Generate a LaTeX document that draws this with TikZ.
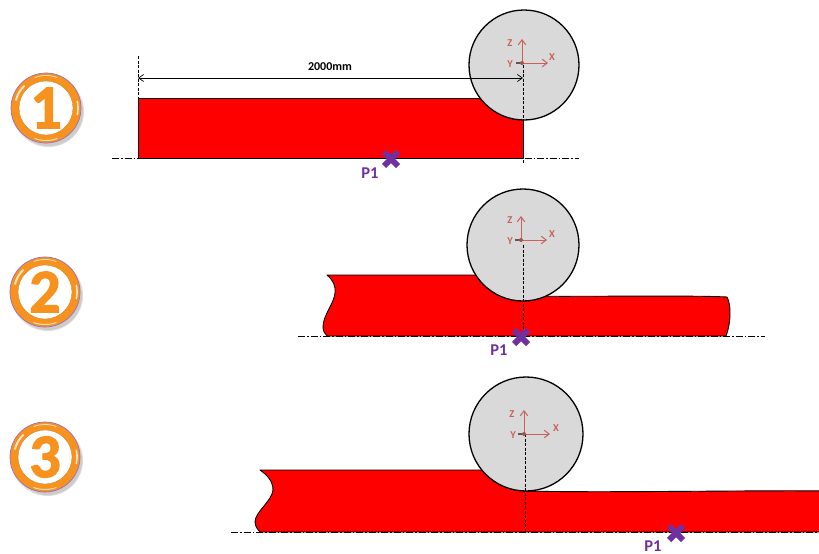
\documentclass[tikz,border=0pt]{standalone}
\usepackage{fontspec}
\setmainfont{Carlito}
\newfontfamily\digitfont[BoldFeatures={FakeBold=2}]{Carlito}
\usetikzlibrary{arrows.meta}
\definecolor{axisred}{HTML}{C9605D}
\definecolor{pur}{HTML}{7030A0}
\definecolor{ringor}{HTML}{F8921E}
\definecolor{ringlt}{HTML}{FFE3BE}
\tikzset{
  x=1pt,y=-1pt,
  bar/.style={fill=red,draw=black,line width=0.9pt,line join=round},
  roll/.style={circle,draw=black,line width=1.3pt,fill=black!15,inner sep=0pt},
  axisline/.style={draw=black,line width=0.6pt,dash pattern=on 7pt off 2pt on 1.5pt off 2pt},
  centerline/.style={draw=black,line width=0.7pt,dash pattern=on 3pt off 1.5pt},
  coord/.style={draw=axisred,line width=1pt,-{Straight Barb[length=5pt,width=7.5pt]}},
  coordlab/.style={text=axisred,font=\bfseries\fontsize{10.5}{10.5}\selectfont,inner sep=0pt},
  plabel/.style={text=pur,font=\bfseries\fontsize{16.5}{16.5}\selectfont,inner sep=0pt},
  crossmark/.style={draw=pur,line width=6pt},
  ring/.style={circle,draw=pur!70,line width=0.7pt,fill=ringor,minimum size=70pt,inner sep=0pt},
  ringin/.style={circle,draw=ringor!80!black,line width=0.3pt,fill=white,minimum size=54pt,inner sep=0pt},
  digit/.style={text=ringor,font=\digitfont\bfseries\fontsize{62}{62}\selectfont,inner sep=0pt},
  shadowdisc/.style={circle,fill=black,opacity=0.07,inner sep=0pt},
}
\newcommand{\hl}[6]{% cx cy from to radius width
  \draw[ringlt,line width=#6pt,line cap=round] plot[domain=#3:#4,samples=12,smooth] ({#1+#5*cos(\x)},{#2+#5*sin(\x)});
}
\newcommand{\badge}[4]{%
  \node[shadowdisc,minimum size=72pt] at (#1+2,#2+3) {};
  \node[shadowdisc,minimum size=70pt] at (#1+3,#2+4) {};
  \node[shadowdisc,minimum size=68pt] at (#1+3,#2+4) {};
  \node[ring] (#4) at (#1,#2) {};
  \hl{#1}{#2}{195}{225}{31}{2}
  \hl{#1}{#2}{-12}{12}{32}{1.6}
  \hl{#1}{#2}{70}{110}{32.5}{1}
  \hl{#1}{#2}{250}{290}{32.5}{0.8}
  \node[ringin] at (#1,#2) {};
  \node[digit] at (#1,#2) {#3};
}
\newcommand{\frameaxes}[6]{%
  \coordinate (o#1) at (#2,#3);
  \coordinate (z#1) at (#2,#3-24);
  \coordinate (x#1) at (#2+26,#3);
  \coordinate (s#1) at (#2-6,#3);
  \draw[line width=1.3pt,black!65] (s#1) -- (o#1);
  \draw[coord] (o#1) -- (z#1);
  \draw[coord] (o#1) -- (x#1);
  \fill[axisred!85!black] (o#1) circle (2);
  \node[coordlab] (lz#1) at (#4,#3-20) {Z};
  \node[coordlab] (ly#1) at (#5,#3+1) {Y};
  \node[coordlab] (lx#1) at (#6,#3-6) {X};
}
\newcommand{\crossat}[3]{%
  \coordinate (c#1) at (#2,#3);
  \draw[crossmark] (#2-7,#3-7) -- (#2+7,#3+7);
  \draw[crossmark] (#2-7,#3+7) -- (#2+7,#3-7);
}
\begin{document}
\begin{tikzpicture}
\useasboundingbox (0,0) rectangle (819,554);
% Badges
\badge{46}{108}{1}{b1}
\badge{45}{292}{2}{b2}
\badge{45}{457}{3}{b3}

% Panel 1
\coordinate (a1l) at (112,158);
\coordinate (a1r) at (579,158);
\coordinate (d1l) at (138,78);
\coordinate (d1r) at (523,78);
\coordinate (v1a) at (138,56);
\coordinate (v1b) at (138,158);
\coordinate (v1c) at (523,65);
\coordinate (v1d) at (523,163);
\draw[bar] (138,98) rectangle (523,158);
\node[roll,minimum size=110pt] (r1) at (524,65) {};
\draw[axisline] (a1l) -- (a1r);
\draw[centerline] (v1a) -- (v1b);
\draw[centerline] (v1c) -- (v1d);
\draw[line width=0.7pt,{Straight Barb[length=5pt,width=7pt]}-{Straight Barb[length=5pt,width=7pt]}] (d1l) -- (d1r);
\node[font=\bfseries\fontsize{12}{12}\selectfont,inner sep=0pt] (dim) at (330,67) {2000mm};
\frameaxes{1}{522}{63}{510}{510}{552}
\crossat{1}{391}{159}
\node[plabel] (p1) at (370,173) {P1};

% Panel 2
\coordinate (a2l) at (298,336);
\coordinate (a2r) at (765,336);
\coordinate (v2a) at (523,245);
\coordinate (v2b) at (523,337);
\draw[bar] (327,275) .. controls (333,280) and (336,286) .. (335,293)
  .. controls (334,304) and (323,315) .. (323,327)
  .. controls (323,331) and (325,334) .. (327,336)
  -- (726,336)
  .. controls (729,328) and (730,320) .. (730,313)
  .. controls (730,306) and (729,301) .. (727,297)
  .. controls (690,295) and (570,297) .. (523,296)
  -- (476,275)
  -- cycle;
\node[roll,minimum size=112pt] (r2) at (523,245) {};
\draw[axisline] (a2l) -- (a2r);
\draw[centerline] (v2a) -- (v2b);
\frameaxes{2}{521}{240}{510}{510}{552}
\crossat{2}{521}{337}
\node[plabel] (p2) at (499,350) {P1};

% Panel 3
\coordinate (a3l) at (231,532);
\coordinate (a3r) at (819,532);
\coordinate (v3a) at (525,434);
\coordinate (v3b) at (525,532);
\draw[bar] (260,470) .. controls (267,475) and (273,481) .. (273,490)
  .. controls (272,501) and (255,512) .. (255,522)
  .. controls (255,526) and (258,530) .. (260,532)
  -- (825,532) -- (825,491)
  .. controls (760,490) and (600,493) .. (526,491)
  -- (482,470)
  -- cycle;
\node[roll,minimum size=114pt] (r3) at (526,434) {};
\draw[axisline] (a3l) -- (a3r);
\draw[centerline] (v3a) -- (v3b);
\frameaxes{3}{524}{434}{512}{513}{556}
\crossat{3}{676}{533}
\node[plabel] (p3) at (653,546) {P1};
\end{tikzpicture}
\end{document}
